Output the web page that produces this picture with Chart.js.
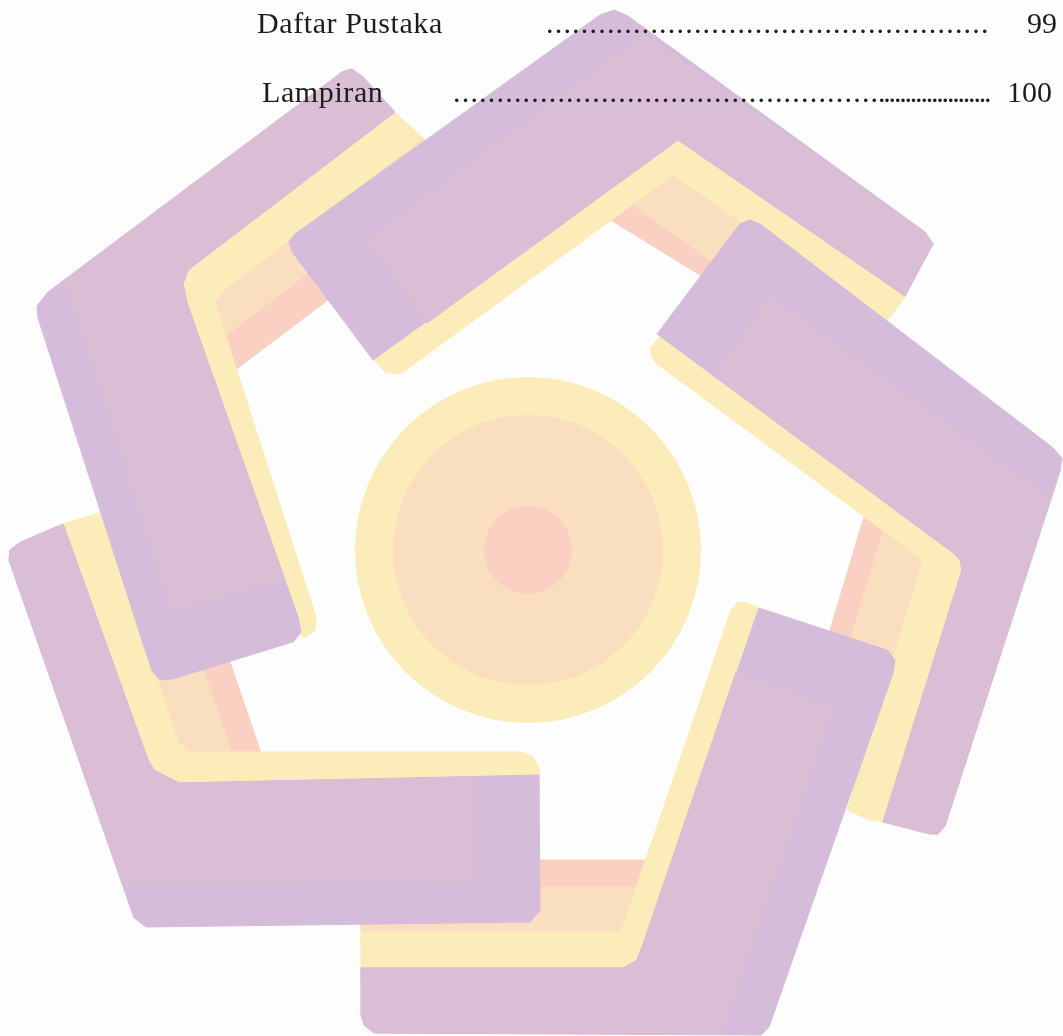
<!DOCTYPE html>
<html>
<head>
<meta charset="utf-8">
<title>Daftar Isi</title>
<script src="https://cdn.jsdelivr.net/npm/chart.js@4.4.0/dist/chart.umd.min.js"></script>
<style>
  html, body { margin: 0; padding: 0; background: #fdfdfd; }
  #wrap { position: relative; width: 1063px; height: 1036px; overflow: hidden; }
  #logo { position: absolute; left: 0; top: 0; }
  .toc { position: absolute; font-family: "Liberation Serif", "Times New Roman", serif; font-size: 30px; line-height: 30px; color: #1d1d1d; white-space: nowrap; }
  .title { letter-spacing: 0.6px; }
  .dots { letter-spacing: 1.2px; }
  .dense { letter-spacing: -2.2px; }
</style>
</head>
<body>
<div id="wrap">
  <canvas id="logo" width="1063" height="1036"></canvas>
  <div class="toc title" style="left:257px;top:8px">Daftar Pustaka</div>
  <div class="toc dots" id="dots1" style="left:546px;top:8px"></div>
  <div class="toc" style="left:1027px;top:8px">99</div>
  <div class="toc title" style="left:262px;top:77px">Lampiran</div>
  <div class="toc dots" id="dots2" style="left:453px;top:77px"></div>
  <div class="toc dense" id="dots3" style="left:878px;top:77px"></div>
  <div class="toc" style="left:1007px;top:77px">100</div>
</div>
<script>
// leader dots of the table of contents
document.getElementById('dots1').textContent = '.'.repeat(51);
document.getElementById('dots2').textContent = '.'.repeat(49);
document.getElementById('dots3').textContent = '.'.repeat(21);

// centre rings (same centre, three rings)
const ringCenter = [[528, 550], [528, 550], [528, 550]];

// left arm
const lSalmon = [[300,215],[451,165],[476,188],[234,371],[215,320]];
const lPeach  = [[300,175],[423,138],[451,165],[224,337],[200,300]];
const lYellow = [[385,103],[423,138],[224,290],[215,302],[316,617],[315,630],[305,638],[250,600],[160,330],[150,280],[300,160]];
const lPurple = [[342,72],[352,69],[362,76],[395,112],[188,270],[183,284],[187,303],[298,617],[301,632],[293,642],[172,679],[160,680],[152,671],[38,318],[37,306],[48,292]];
const lPink   = [[342,72],[352,69],[362,76],[395,112],[188,270],[183,284],[187,303],[285,580],[171,613],[68,292],[62,283]];

// top arm
const tSalmon = [[628,200],[700,200],[800,280],[760,312],[609,219]];
const tPeach  = [[672,157],[860,296],[870,335],[760,296],[630,203]];
const tYellow = [[365,350],[385,372],[398,374],[406,370],[673,175],[886,322],[906,296],[905,290],[680,130],[380,340]];
const tPurple = [[600,15],[614,10],[628,16],[925,232],[933,244],[905,296],[678,140],[373,360],[293,253],[289,242],[295,234]];
const tPink   = [[644,34],[925,232],[933,244],[905,296],[678,140],[427,323],[365,239]];

// right arm
const rSalmon = [[864,517],[885,532],[850,700],[809,700]];
const rPeach  = [[883,531],[930,562],[895,690],[835,690]];
const rYellow = [[670,325],[650,348],[652,358],[657,364],[923,560],[847,810],[870,820],[883,822],[930,700],[975,560]];
const rPurple = [[657,334],[740,224],[750,220],[760,224],[1052,447],[1062,458],[1060,471],[945,826],[938,834],[930,834],[883,822],[962,570],[960,560],[952,552]];
const rPink   = [[771,295],[1048,496],[1060,471],[945,826],[938,834],[930,834],[883,822],[962,570],[960,560],[952,552],[713,375]];

// bottom arm
const bSalmon = [[450,860],[655,860],[645,895],[450,895]];
const bPeach  = [[361,887],[646,887],[625,945],[361,945]];
const bYellow = [[361,932],[621,932],[731,610],[738,602],[748,603],[759,608],[780,650],[680,980],[361,980]];
const bPurple = [[759,608],[887,650],[895,660],[893,673],[769,1027],[761,1035],[374,1033],[364,1025],[361,1015],[361,968],[623,968],[637,960],[642,947]];
const bPink   = [[736,672],[835,706],[723,1033],[374,1033],[364,1025],[361,1015],[361,968],[623,968],[637,960],[642,947]];

// bottom-left arm
const blSalmon = [[140,515],[180,515],[260,750],[262,760],[235,762],[200,700],[155,560]];
const blPeach  = [[110,515],[151,515],[229,745],[236,762],[185,762],[135,640]];
const blYellow = [[45,545],[63,524],[102,512],[178,742],[190,752],[521,752],[533,757],[539,768],[539,790],[140,800],[60,575]];
const blPurple = [[21,542],[63,524],[148,760],[154,770],[179,783],[539,775],[540,910],[530,922],[146,927],[134,918],[9,560],[10,550]];
const blPink   = [[21,542],[63,524],[148,760],[154,770],[179,783],[477,777],[477,885],[123,884],[9,560],[10,550]];

const PURPLE = '#d4bcda';
const PINK = '#d9bed6';
const YELLOW = '#fbecb9';
const PEACH = '#f9dec0';
const SALMON = '#f9d0c2';

function shape(points, color) {
  const pts = points.map(p => ({x: p[0], y: p[1]}));
  pts.push(pts[0]);
  return {
    data: pts,
    showLine: true,
    fill: 'shape',
    tension: 0,
    backgroundColor: color,
    borderColor: color,
    borderWidth: 1,
    pointRadius: 0,
    pointHoverRadius: 0
  };
}

// painter's order: first entry is at the bottom
const layers = [];
layers.push({
  data: ringCenter.map(p => ({x: p[0], y: p[1]})),
  showLine: false,
  pointRadius: [173, 135, 44],
  pointHoverRadius: [173, 135, 44],
  pointBackgroundColor: [YELLOW, PEACH, SALMON],
  pointBorderWidth: 0,
  pointBorderColor: 'rgba(0,0,0,0)'
});
[[lSalmon, lPeach, lYellow], [tSalmon, tPeach, tYellow], [rSalmon, rPeach, rYellow],
 [bSalmon, bPeach, bYellow], [blSalmon, blPeach, blYellow]].forEach(arm => {
  layers.push(shape(arm[0], SALMON));
  layers.push(shape(arm[1], PEACH));
  layers.push(shape(arm[2], YELLOW));
});
[lPurple, tPurple, rPurple, bPurple, blPurple].forEach(p => layers.push(shape(p, PURPLE)));
[lPink, tPink, rPink, bPink, blPink].forEach(p => layers.push(shape(p, PINK)));

const ctx = document.getElementById('logo');

new Chart(ctx, {
  type: 'scatter',
  data: { datasets: layers.slice().reverse() },
  options: {
    responsive: false,
    animation: false,
    events: [],
    layout: { padding: 0, autoPadding: false },
    plugins: {
      legend: { display: false },
      tooltip: { enabled: false }
    },
    scales: {
      x: { type: 'linear', min: 0, max: 1063, display: false },
      y: { type: 'linear', min: 0, max: 1036, reverse: true, display: false }
    }
  }
});
</script>
</body>
</html>
